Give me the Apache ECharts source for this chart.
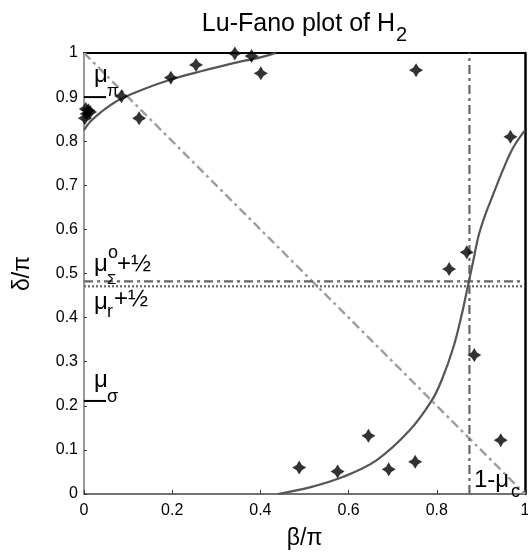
<!DOCTYPE html>
<html>
<head>
<meta charset="utf-8">
<script src="https://cdn.jsdelivr.net/npm/echarts@6/dist/echarts.min.js"></script>
<style>
html, body { margin: 0; padding: 0; background: #fff; }
#chart { width: 528px; height: 552px; }
</style>
</head>
<body>
<div id="chart"></div>
<script>
// measured points (beta/pi, delta/pi)
const betaPts  = [0.002, 0.006, 0.010, 0.014, 0.004, 0.085, 0.125, 0.197, 0.254, 0.342, 0.380, 0.401,
                  0.753, 0.967, 0.828, 0.868, 0.885, 0.945, 0.488, 0.575, 0.645, 0.691, 0.751];
const deltaPts = [0.852, 0.862, 0.870, 0.866, 0.873, 0.902, 0.852, 0.944, 0.973, 0.999, 0.993, 0.954,
                  0.961, 0.810, 0.510, 0.548, 0.315, 0.122, 0.060, 0.051, 0.132, 0.056, 0.073];

// fitted Lu-Fano curve (two branches, wrapped mod 1)
const upperBeta  = [0, 0.015, 0.036, 0.060, 0.085, 0.135, 0.197, 0.263, 0.339, 0.400, 0.435];
const upperDelta = [0.825, 0.845, 0.864, 0.882, 0.897, 0.918, 0.940, 0.958, 0.977, 0.990, 1.0];
const lowerBeta  = [0.440, 0.512, 0.588, 0.664, 0.739, 0.788, 0.811, 0.838, 0.855, 0.871, 0.883,
                    0.894, 0.908, 0.925, 0.950, 0.973, 1.0];
const lowerDelta = [0.0, 0.015, 0.039, 0.077, 0.145, 0.211, 0.258, 0.334, 0.400, 0.474, 0.530,
                    0.583, 0.628, 0.672, 0.735, 0.785, 0.825];

// quantum defect levels
const muPi = 0.9;
const muSigma = 0.211;
const muSigmaO = 0.482;
const muR = 0.471;
const oneMinusMuC = 0.874;
const shortLen = 0.05;

const xTickStep = 0.2;
const yTickStep = 0.1;

const FONT = '"Liberation Sans", Arial, sans-serif';
const DASHDOT = [9, 4, 3, 4];

const chart = echarts.init(document.getElementById('chart'), null, { renderer: 'canvas' });

const starPath = 'path://M0,-10 L3.8,-3.8 L10,0 L3.8,3.8 L0,10 L-3.8,3.8 L-10,0 L-3.8,-3.8 Z';

function seg(a, b) { return [a, b]; }

function txt(text, x, y, size) {
    return {
        type: 'text', x: x, y: y, z: 100,
        style: { text: text, font: size + 'px ' + FONT, fill: '#000', textAlign: 'left', textVerticalAlign: 'middle' }
    };
}

const option = {
    animation: false,
    backgroundColor: '#fff',
    grid: { left: 84, right: 3, top: 53, bottom: 58, containLabel: false, outerBoundsMode: 'none' },
    xAxis: [{
        type: 'value', min: 0, max: 1, interval: xTickStep,
        name: 'β/π', nameLocation: 'middle', nameGap: 33,
        nameTextStyle: { fontFamily: FONT, fontSize: 23, color: '#000' },
        axisLine: { onZero: false, lineStyle: { color: '#444', width: 1.5 } },
        axisTick: { inside: true, length: 4, lineStyle: { color: '#333' } },
        axisLabel: { fontFamily: FONT, fontSize: 16, color: '#000', margin: 9 },
        splitLine: { show: false }
    }, {
        type: 'value', min: 0, max: 1, position: 'top',
        axisLine: { onZero: false, lineStyle: { color: '#000', width: 2 } },
        axisTick: { show: false }, axisLabel: { show: false }, splitLine: { show: false }
    }],
    yAxis: [{
        type: 'value', min: 0, max: 1, interval: yTickStep,
        name: 'δ/π', nameLocation: 'middle', nameGap: 50,
        nameTextStyle: { fontFamily: FONT, fontSize: 23, color: '#000' },
        axisLine: { onZero: false, lineStyle: { color: '#777', width: 1.5 } },
        axisTick: { inside: true, length: 3, lineStyle: { color: '#333' } },
        axisLabel: { fontFamily: FONT, fontSize: 16, color: '#000', margin: 6 },
        splitLine: { show: false }
    }, {
        type: 'value', min: 0, max: 1, position: 'right',
        axisLine: { onZero: false, lineStyle: { color: '#000', width: 2.5 } },
        axisTick: { show: false }, axisLabel: { show: false }, splitLine: { show: false }
    }],
    series: [
        {   // diagonal
            type: 'line', symbol: 'none', z: 1,
            data: [[0, 1], [1, 0]],
            lineStyle: { color: '#a0a0a0', width: 2.5, type: DASHDOT }
        },
        {
            type: 'line', symbol: 'none', z: 1,
            data: seg([oneMinusMuC, 0], [oneMinusMuC, 1]),
            lineStyle: { color: '#666', width: 2.2, type: DASHDOT }
        },
        {
            type: 'line', symbol: 'none', z: 1,
            data: seg([0, muSigmaO], [1, muSigmaO]),
            lineStyle: { color: '#666', width: 2.2, type: DASHDOT }
        },
        {
            type: 'line', symbol: 'none', z: 1,
            data: seg([0, muR], [1, muR]),
            lineStyle: { color: '#666', width: 2.2, type: [2, 2] }
        },
        {
            type: 'line', symbol: 'none', z: 2,
            data: seg([0, muPi], [shortLen, muPi]),
            lineStyle: { color: '#000', width: 2 }
        },
        {
            type: 'line', symbol: 'none', z: 2,
            data: seg([0, muSigma], [shortLen, muSigma]),
            lineStyle: { color: '#000', width: 2 }
        },
        {
            type: 'line', symbol: 'none', smooth: 0.35, z: 3,
            data: upperBeta.map((b, i) => [b, upperDelta[i]]),
            lineStyle: { color: '#555', width: 2.2 }
        },
        {
            type: 'line', symbol: 'none', smooth: 0.35, z: 3,
            data: lowerBeta.map((b, i) => [b, lowerDelta[i]]),
            lineStyle: { color: '#555', width: 2.2 }
        },
        {
            type: 'scatter', symbol: starPath, symbolSize: 14, z: 5,
            itemStyle: { color: '#000' },
            data: betaPts.map((b, i) => [b, deltaPts[i]])
        }
    ],
    graphic: [
        {
            type: 'text', x: 395, y: 24, z: 100,
            style: { text: 'Lu-Fano plot of H', font: '25px ' + FONT, fill: '#000', textAlign: 'right', textVerticalAlign: 'middle' }
        },
        txt('2', 396, 35, 20),
        txt('μ', 94, 75, 24), txt('π', 107, 91, 17),
        txt('μ', 94, 264, 24), txt('o', 108, 253, 18), txt('Σ', 107, 280, 15), txt('+½', 117, 264, 24),
        txt('μ', 94, 302, 24), txt('r', 107, 312, 18), txt('+½', 114, 299, 24),
        txt('μ', 94, 380, 24), txt('σ', 107, 397, 18),
        txt('1-μ', 474, 480, 24), txt('c', 511, 492, 18)
    ]
};

chart.setOption(option);
</script>
</body>
</html>
